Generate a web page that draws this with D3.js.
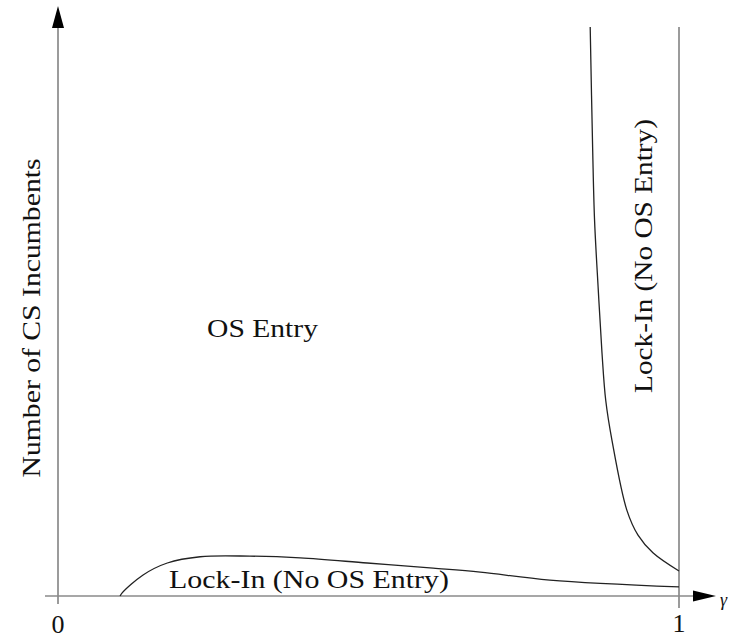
<!DOCTYPE html>
<html>
<head>
<meta charset="utf-8">
<script src="https://cdn.jsdelivr.net/npm/d3@7"></script>
<style>
  html, body { margin: 0; padding: 0; background: #fff; }
  svg { display: block; }
</style>
</head>
<body>
<svg id="chart" width="735" height="639"></svg>
<script>
// Region boundaries in (share, number of CS incumbents) space
const lowerBoundaryX = [0.100, 0.103, 0.137, 0.176, 0.229, 0.309, 0.390, 0.498, 0.604, 0.680, 0.792, 1.000];
const lowerBoundaryY = [0.0,   0.5,   3.7,   5.8,   6.9,   7.0,   6.7,   5.8,   4.9,   4.2,   2.8,   1.6];

const upperBoundaryX = [0.857, 0.861, 0.864, 0.870, 0.876, 0.882, 0.892, 0.916, 0.934, 0.958, 1.000];
const upperBoundaryY = [100,   78.4,  66.1,  53.8,  42.7,  34.4,  27.4,  15.1,  10.7,  7.6,   4.4];

const xTickValues = [0, 1];
const xTickLabels = ["0", "1"];

const regionLabels = ["OS Entry", "Lock-In (No OS Entry)", "Lock-In (No OS Entry)"];
const yAxisTitle = "Number of CS Incumbents";
const xAxisTitle = "γ";

const serif = "'Liberation Serif', 'DejaVu Serif', 'Times New Roman', serif";

const svg = d3.select("#chart");

const x = d3.scaleLinear().domain([0, 1]).range([58, 679]);
const y = d3.scaleLinear().domain([0, 100]).range([596, 27]);

const axisColor = "#8a8a8a";
const curveColor = "#222";

// x axis with arrowhead
svg.append("line")
  .attr("x1", 45).attr("x2", 693)
  .attr("y1", y(0)).attr("y2", y(0))
  .attr("stroke", axisColor).attr("stroke-width", 1.7);
svg.append("path")
  .attr("d", `M${693},${y(0) - 5.5} L${716},${y(0)} L${693},${y(0) + 5.5} Z`)
  .attr("fill", "#000");

// y axis with arrowhead
svg.append("line")
  .attr("x1", x(0)).attr("x2", x(0))
  .attr("y1", 604).attr("y2", 28)
  .attr("stroke", axisColor).attr("stroke-width", 1.7);
svg.append("path")
  .attr("d", `M${x(0) - 6},${28} L${x(0)},${6} L${x(0) + 6},${28} Z`)
  .attr("fill", "#000");

// vertical boundary at share = 1
svg.append("line")
  .attr("x1", x(1)).attr("x2", x(1))
  .attr("y1", y(100)).attr("y2", 608)
  .attr("stroke", axisColor).attr("stroke-width", 1.7);

// region boundaries
const lowerPts = lowerBoundaryX.map((v, i) => [v, lowerBoundaryY[i]]);
const upperPts = upperBoundaryX.map((v, i) => [v, upperBoundaryY[i]]);

const lineGen = d3.line()
  .x(d => x(d[0]))
  .y(d => y(d[1]))
  .curve(d3.curveCatmullRom.alpha(0.5));

svg.append("path")
  .attr("d", lineGen(lowerPts))
  .attr("fill", "none")
  .attr("stroke", curveColor).attr("stroke-width", 1.3);

svg.append("path")
  .attr("d", lineGen(upperPts))
  .attr("fill", "none")
  .attr("stroke", curveColor).attr("stroke-width", 1.3);

// text helper
function label(sel) {
  return sel.attr("font-family", serif).attr("fill", "#111").attr("font-size", 26);
}

// tick labels
const tickBaselines = [633, 632];
svg.selectAll("text.tick")
  .data(xTickValues)
  .join("text")
  .attr("class", "tick")
  .call(label)
  .attr("x", d => x(d))
  .attr("y", (d, i) => tickBaselines[i])
  .attr("text-anchor", "middle")
  .text((d, i) => xTickLabels[i]);

// x axis title, just past the arrowhead
svg.append("text")
  .call(label)
  .attr("x", 720).attr("y", 606)
  .attr("font-size", 18)
  .attr("font-style", "italic")
  .text(xAxisTitle);

// y axis title
svg.append("text")
  .call(label)
  .attr("transform", `translate(40,318) rotate(-90)`)
  .attr("text-anchor", "middle")
  .attr("textLength", 319)
  .attr("lengthAdjust", "spacingAndGlyphs")
  .text(yAxisTitle);

// region labels
svg.append("text")
  .call(label)
  .attr("x", 207).attr("y", 337)
  .attr("textLength", 111)
  .attr("lengthAdjust", "spacingAndGlyphs")
  .text(regionLabels[0]);

svg.append("text")
  .call(label)
  .attr("x", 169).attr("y", 588)
  .attr("textLength", 280)
  .attr("lengthAdjust", "spacingAndGlyphs")
  .text(regionLabels[1]);

svg.append("text")
  .call(label)
  .attr("transform", `translate(652,256) rotate(-90)`)
  .attr("text-anchor", "middle")
  .attr("textLength", 274)
  .attr("lengthAdjust", "spacingAndGlyphs")
  .text(regionLabels[2]);
</script>
</body>
</html>
